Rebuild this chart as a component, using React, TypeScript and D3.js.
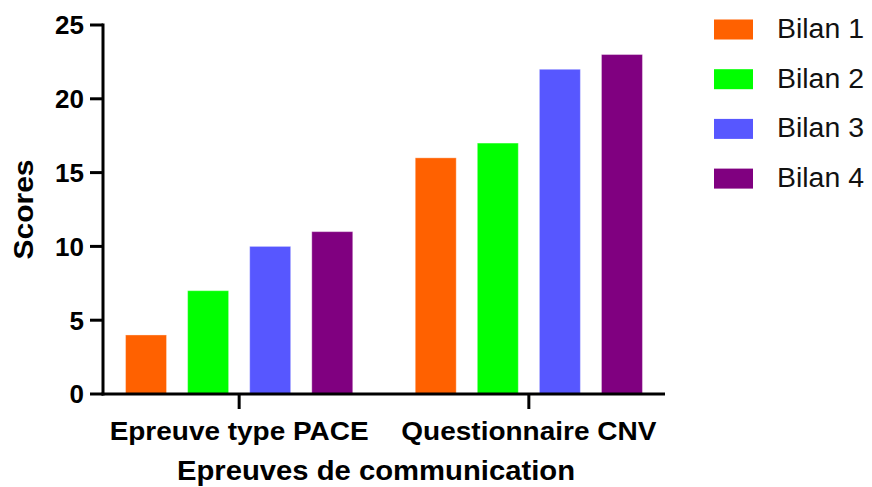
import React from "react";
import * as d3 from "d3";

const categories = ["Epreuve type PACE", "Questionnaire CNV"];
const seriesNames = ["Bilan 1", "Bilan 2", "Bilan 3", "Bilan 4"];
const bilan1 = [4, 16];
const bilan2 = [7, 17];
const bilan3 = [10, 22];
const bilan4 = [11, 23];
const seriesValues = [bilan1, bilan2, bilan3, bilan4];
const colors = ["#FF6100", "#00FF00", "#5757FF", "#800080"];
const yTicks = [0, 5, 10, 15, 20, 25];

const W = 872;
const H = 487;
const FONT = "'Liberation Sans', Arial, Helvetica, sans-serif";

export default function App() {
  const left = 103;
  const right = 665;
  const top = 25;
  const bottom = 394;

  const y = d3.scaleLinear().domain([0, 25]).range([bottom, top]);
  const x0 = d3
    .scaleBand<string>()
    .domain(categories)
    .range([left, right])
    .paddingInner(0.1)
    .paddingOuter(0.02);
  const x1 = d3
    .scaleBand<string>()
    .domain(seriesNames)
    .range([0, x0.bandwidth()])
    .paddingInner(0.34)
    .paddingOuter(0.27);

  const catLabelWidths = [259, 255];

  return (
    <svg
      width={W}
      height={H}
      viewBox={`0 0 ${W} ${H}`}
      style={{ position: "absolute", left: 0, top: 0, background: "#fff" }}
      fontFamily={FONT}
    >
      <rect x={0} y={0} width={W} height={H} fill="#fff" />
      {/* bars */}
      {categories.map((c, ci) => (
        <g key={c} transform={`translate(${x0(c)},0)`}>
          {seriesNames.map((s, si) => {
            const v = seriesValues[si][ci];
            return (
              <rect
                key={s}
                x={x1(s)}
                y={y(v)}
                width={x1.bandwidth()}
                height={y(0) - y(v)}
                fill={colors[si]}
                stroke="#ffffff"
                strokeOpacity={0.35}
                strokeWidth={1}
              />
            );
          })}
        </g>
      ))}

      {/* y axis */}
      <line x1={left} x2={left} y1={top - 1.5} y2={bottom + 1.5} stroke="#000" strokeWidth={3} />
      {yTicks.map((t) => (
        <g key={t}>
          <line x1={left - 13} x2={left} y1={y(t)} y2={y(t)} stroke="#000" strokeWidth={3} />
          <text
            x={left - 19}
            y={y(t)}
            dy="0.36em"
            textAnchor="end"
            fontSize={26}
            fontWeight="bold"
            fill="#000"
          >
            {t}
          </text>
        </g>
      ))}

      {/* x axis */}
      <line x1={left - 1.5} x2={right} y1={bottom} y2={bottom} stroke="#000" strokeWidth={3} />
      {categories.map((c, ci) => {
        const cx = (x0(c) as number) + x0.bandwidth() / 2;
        return (
          <g key={c}>
            <line x1={cx} x2={cx} y1={bottom} y2={bottom + 15} stroke="#000" strokeWidth={3} />
            <text
              x={cx}
              y={440}
              textAnchor="middle"
              fontSize={25}
              fontWeight="bold"
              fill="#000"
              textLength={catLabelWidths[ci]}
              lengthAdjust="spacingAndGlyphs"
            >
              {c}
            </text>
          </g>
        );
      })}

      {/* axis titles */}
      <text
        x={376}
        y={480}
        textAnchor="middle"
        fontSize={27}
        fontWeight="bold"
        fill="#000"
        textLength={398}
        lengthAdjust="spacingAndGlyphs"
      >
        Epreuves de communication
      </text>
      <text
        transform={`translate(33,${(top + bottom) / 2}) rotate(-90)`}
        textAnchor="middle"
        fontSize={28}
        fontWeight="bold"
        fill="#000"
        textLength={100}
        lengthAdjust="spacingAndGlyphs"
      >
        Scores
      </text>

      {/* legend */}
      {seriesNames.map((s, i) => {
        const ly = 19.5 + i * 49.7;
        return (
          <g key={s}>
            <rect x={714} y={ly} width={39} height={20} fill={colors[i]} />
            <text
              x={777}
              y={ly + 18.5}
              fontSize={27}
              fill="#111"
              textLength={87}
              lengthAdjust="spacingAndGlyphs"
            >
              {s}
            </text>
          </g>
        );
      })}
    </svg>
  );
}
